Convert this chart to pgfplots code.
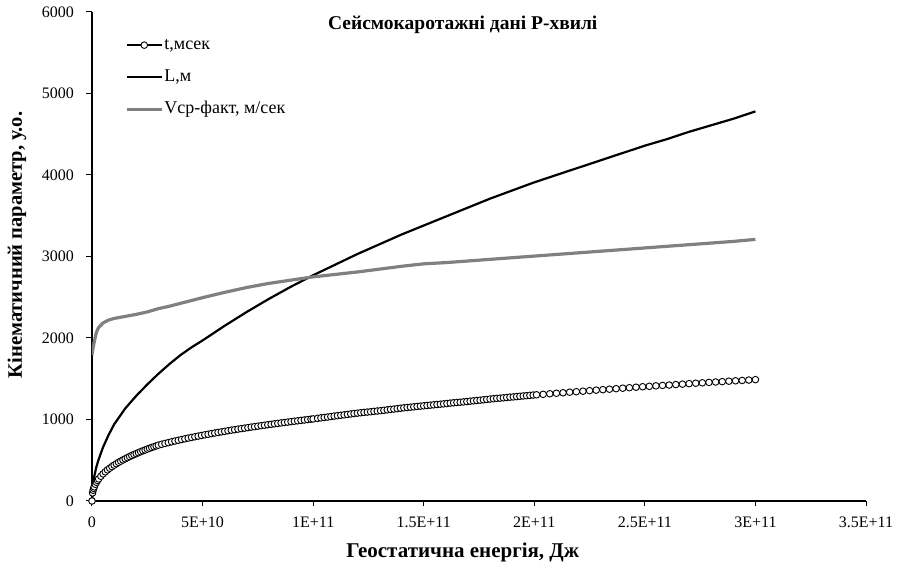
\documentclass[border=0pt]{standalone}
\usepackage{pgfplots}
\usepackage{pgfplotstable}
\usepackage{fontspec}
\setmainfont{Liberation Serif}
\pgfplotsset{compat=1.18}
\definecolor{vgray}{RGB}{128,128,128}

\pgfplotstableread{
x t
0 0
0.25 99
0.5 132
0.75 155
1 174
1.5 205
2 230
2.5 252
3 271
4 304
5 333
6 358
7 381
8 402
9 422
10 440
11 457
12 474
13 489
14 504
15 518
16 532
17 545
18 558
19 570
20 582
21 593
22 605
23 616
24 626
25 637
26 647
27 657
28 666
29 676
30 685
31.5 696
33 706
34.5 716
36 726
37.5 736
39 745
40.5 754
42 763
43.5 772
45 780
46.5 788
48 796
49.5 804
51 812
52.5 819
54 827
55.5 834
57 841
58.5 848
60 855
61.5 862
63 869
64.5 875
66 882
67.5 888
69 894
70.5 900
72 907
73.5 912
75 918
76.5 924
78 930
79.5 936
81 941
82.5 947
84 952
85.5 958
87 963
88.5 968
90 974
91.5 979
93 984
94.5 989
96 994
97.5 999
99 1004
100 1007
102 1014
103.5 1020
105 1025
106.5 1030
108 1036
109.5 1042
111 1047
112.5 1052
114 1057
115.5 1062
117 1068
118.5 1073
120 1078
121.5 1083
123 1087
124.5 1091
126 1095
127.5 1100
129 1104
130.5 1108
132 1113
133.5 1118
135 1124
136.5 1128
138 1133
139.5 1138
141 1143
142.5 1147
144 1151
145.5 1155
147 1160
148.5 1164
150 1168
151.5 1172
153 1176
154.5 1180
156 1184
157.5 1188
159 1192
160.5 1196
162 1201
163.5 1205
165 1209
166.5 1212
168 1216
169.5 1220
171 1225
172.5 1229
174 1233
175.5 1237
177 1242
178.5 1246
180 1251
181.5 1255
183 1259
184.5 1262
186 1266
187.5 1270
189 1274
190.5 1277
192 1281
193.5 1285
195 1289
196.5 1292
198 1296
199.5 1300
201 1303
204 1309
207 1316
210 1322
213 1328
216 1335
219 1341
222 1347
225 1354
228 1360
231 1366
234 1372
237 1378
240 1384
243 1390
246 1396
249 1402
252 1407
255 1413
258 1418
261 1423
264 1429
267 1434
270 1440
273 1445
276 1450
279 1455
282 1460
285 1465
288 1470
291 1475
294 1479
297 1484
300 1489
}\tdata

\pgfplotstableread{
x L V
0 0 1790
0.5 210 1880
1 300 1950
2 420 2070
3 510 2130
5 660 2185
7.5 810 2220
10 940 2240
15 1135 2265
20 1290 2290
25 1430 2320
30 1560 2360
35 1680 2390
40 1790 2425
45 1885 2460
50 1970 2495
60 2150 2560
70 2320 2620
80 2480 2670
90 2630 2710
100 2770 2750
110 2900 2780
120 3030 2810
130 3150 2845
140 3270 2880
150 3380 2910
160 3490 2925
170 3600 2945
180 3710 2965
190 3810 2985
200 3910 3005
210 4000 3025
220 4090 3045
230 4180 3065
240 4270 3085
250 4360 3105
260 4440 3125
270 4530 3145
280 4610 3165
290 4690 3185
300 4780 3210
}\lvdata

\begin{document}
\begin{tikzpicture}
\begin{axis}[
  scale only axis,
  width=774pt, height=489pt,
  xmin=0, xmax=350, ymin=0, ymax=6000,
  axis lines*=left,
  axis line style={line width=1.2pt},
  tick align=outside,
  major tick length=5.5pt,
  tick style={line width=1pt, black},
  xtick={0,50,100,150,200,250,300,350},
  xticklabels={0,5E+10,1E+11,1.5E+11,2E+11,2.5E+11,3E+11,3.5E+11},
  ytick={0,1000,2000,3000,4000,5000,6000},
  yticklabels={0,1000,2000,3000,4000,5000,6000},
  ticklabel style={font=\fontsize{16}{18}\selectfont},
  xticklabel style={yshift=-7pt},
  yticklabel style={xshift=-9pt},
  xlabel={Геостатична енергія, Дж},
  ylabel={Кінематичний параметр, у.о.},
  xlabel style={font=\fontsize{21}{25}\selectfont\bfseries, at={(axis description cs:0.479,-0.106)}, anchor=center},
  ylabel style={font=\fontsize{20.5}{24}\selectfont\bfseries, at={(axis description cs:-0.097,0.5235)}, anchor=center},
  title={Сейсмокаротажні дані Р-хвилі},
  title style={font=\fontsize{19.5}{23}\selectfont\bfseries, at={(0.479,0.9775)}, anchor=center, yshift=-8pt},
  legend style={at={(0.0426,0.951)}, anchor=north west, draw=none, fill=none,
    font=\fontsize{18}{21}\selectfont, row sep=14pt, inner sep=0pt,
    nodes={inner sep=1pt, text height=12pt, text depth=4pt}},
  legend cell align=left,
  legend image code/.code={\draw[mark repeat=2,mark phase=2,#1] plot coordinates {(0pt,0pt)(17.5pt,0pt)(35pt,0pt)};},
]
\addplot[black, line width=2pt, mark=*, mark size=3.3pt, mark options={fill=white, draw=black, line width=0.9pt, solid}] table[x=x,y=t] {\tdata};
\addlegendentry{t,мсек}
\addplot[black, line width=2.2pt] table[x=x,y=L] {\lvdata};
\addlegendentry{L,м}
\addplot[vgray, line width=3.2pt] table[x=x,y=V] {\lvdata};
\addlegendentry{Vср-факт, м/сек}
\end{axis}
\pgfresetboundingbox
\path ([xshift=-92pt,yshift=-68pt]current axis.south west) rectangle ([xshift=33pt,yshift=12pt]current axis.north east);
\end{tikzpicture}
\end{document}
